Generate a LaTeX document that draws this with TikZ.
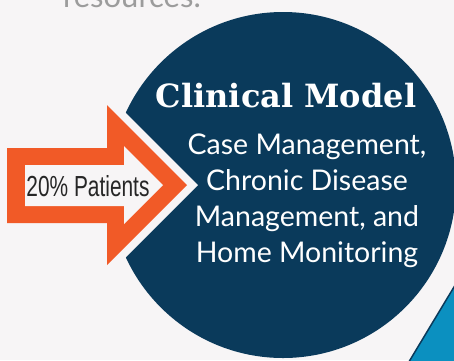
\documentclass[tikz,border=0pt]{standalone}
\usepackage{fontspec}
\usepackage{tikz}
\usetikzlibrary{positioning}
\usepackage{xcolor}
\newfontfamily\headfont{DejaVu Serif}
\newfontfamily\bodyfont{Lato}
\newfontfamily\arrowfont{Liberation Sans}
\definecolor{pagebg}{HTML}{F7F5F6}
\definecolor{navy}{HTML}{0A3A5B}
\definecolor{burnt}{HTML}{F15A27}
\definecolor{skyblue}{HTML}{0B90C0}
\definecolor{greytext}{HTML}{9C9C9C}
\tikzset{%
	model title/.style={
		text=white,
		inner sep=0pt,
		font=\headfont\bfseries\fontsize{32}{36}\selectfont
	},
	model text/.style={
		text=white,
		inner sep=0pt,
		align=center,
		font=\bodyfont\fontsize{28.5}{35.7}\selectfont
	},
}

\begin{document}
\begin{tikzpicture}[
				x=1pt, y=-1pt,
				arrow label/.style={inner sep=0pt, text=black!85, xscale=0.72, font=\arrowfont\fontsize{29}{30}\selectfont},
				cut text/.style={inner sep=0pt, text=greytext, font=\bodyfont\fontsize{31}{33}\selectfont}
				]
				\useasboundingbox (0,0) rectangle (454,360);
				\clip (0,0) rectangle (454,360);
				\fill[pagebg] (0,0) rectangle (454,360);
				
				% Text cut off at the top
				\node[cut text, anchor=base west] (res) at (63,7) {resources.};
				
				% Blue corner
				\fill[skyblue] (460,277) -- (460,370) -- (404,370) -- cycle;
				\draw[navy, line width=1.5pt] (460,277) -- (404,370);
				
				% Circle with the notch
				\fill[navy] (283,185) circle[radius=173];
				\fill[pagebg] (198,185) -- (90,77) -- (-5,77) -- (-5,293) -- (90,293) -- cycle;
				
				% Arrow
				\fill[burnt] (7,148) -- (107,148) -- (107,105) -- (187,185) -- (107,265) -- (107,223) -- (7,223) -- cycle;
				\fill[pagebg] (25,165) -- (124,165) -- (124,146) -- (163,185) -- (124,224) -- (124,206) -- (25,206) -- cycle;
				\node[arrow label, anchor=base] (pat) at (88,196) {20\% Patients};
				
				% Texts in the circle
				\node[model title, anchor=base] (title) at (286,107) {Clinical Model};
				\node[model text, anchor=base] (body) at (307,262) {Case Management,\\Chronic Disease\\Management, and\\Home Monitoring};
				
			\end{tikzpicture}
\end{document}
